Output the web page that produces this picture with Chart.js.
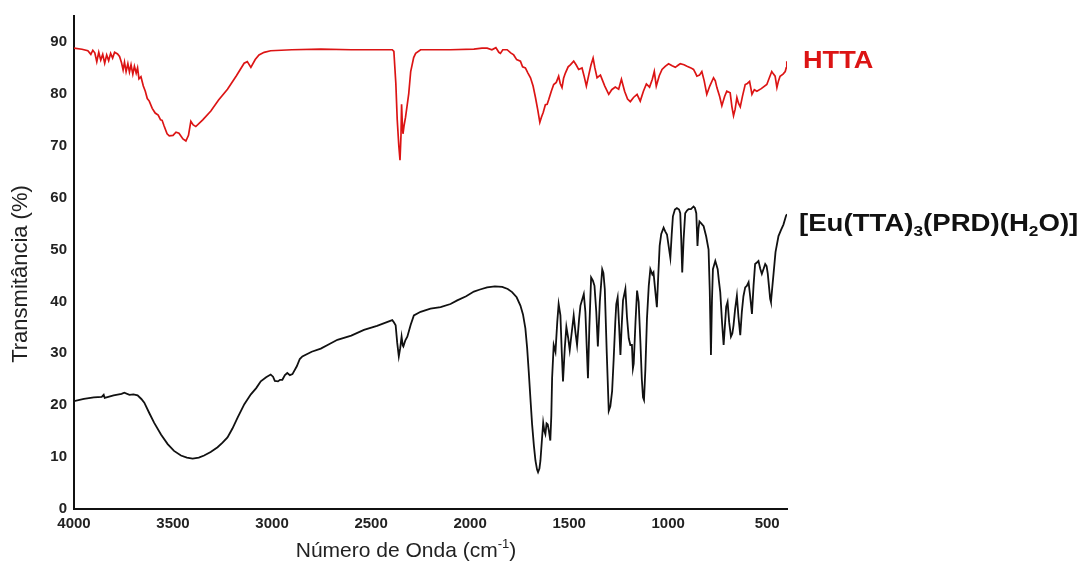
<!DOCTYPE html>
<html lang="pt">
<head>
<meta charset="UTF-8">
<title>FTIR - HTTA e complexo de Eu</title>
<script src="https://cdn.jsdelivr.net/npm/chart.js"></script>
<style>
  html, body { margin: 0; padding: 0; background: #fff; }
  #ftir { display: block; }
</style>
</head>
<body>
<canvas id="ftir" width="1084" height="564"></canvas>

<script>
// HTTA spectrum (wavenumber in cm-1, transmittance in %)
const httaWn = [
  4000, 3960, 3930, 3915, 3905, 3895, 3885, 3875, 3865, 3855, 3845, 3835, 3825, 3815, 3805, 3795,
  3780, 3770, 3760, 3752, 3745, 3737, 3728, 3720, 3712, 3703, 3695, 3686, 3679, 3672, 3662, 3650,
  3640, 3630, 3620, 3605, 3590, 3575, 3563, 3555, 3545, 3530, 3519, 3500, 3485, 3470, 3450, 3435,
  3422, 3410, 3398, 3385, 3350, 3309, 3270, 3225, 3180, 3141, 3125, 3107, 3085, 3066, 3040, 3007,
  2900, 2754, 2600, 2450, 2393, 2385, 2375, 2368, 2360, 2354, 2349, 2346, 2342, 2339, 2333, 2326,
  2310, 2300, 2285, 2275, 2250, 2100, 1981, 1940, 1914, 1890, 1870, 1855, 1847, 1835, 1813, 1795,
  1780, 1765, 1746, 1735, 1721, 1708, 1695, 1682, 1670, 1658, 1648, 1640, 1631, 1620, 1611, 1603,
  1590, 1578, 1565, 1553, 1545, 1536, 1528, 1519, 1505, 1494, 1477, 1465, 1452, 1435, 1425, 1413,
  1400, 1390, 1379, 1370, 1359, 1342, 1320, 1300, 1285, 1267, 1250, 1236, 1220, 1205, 1191, 1175,
  1157, 1141, 1125, 1110, 1094, 1080, 1070, 1060, 1045, 1031, 1015, 998, 980, 964, 950, 939,
  920, 905, 885, 872, 862, 855, 842, 830, 818, 805, 790, 771, 762, 754, 740, 729,
  715, 704, 687, 678, 670, 662, 653, 645, 636, 625, 611, 600, 589, 582, 577, 565,
  552, 530, 502, 490, 477, 468, 460, 451, 443, 435, 420, 409, 404, 401
];
const httaT = [
  88.8, 88.6, 88.3, 87.6, 88.4, 87.9, 86.2, 88.0, 86.5, 87.6, 85.9, 87.5, 86.4, 87.8, 86.9, 88.0,
  87.7, 87.2, 86.0, 84.6, 86.1, 84.3, 85.8, 84.2, 85.6, 83.8, 85.3, 84.0, 85.0, 82.9, 83.3, 81.5,
  80.5, 79.1, 78.6, 77.2, 76.3, 75.9, 75.0, 74.9, 73.8, 72.3, 71.9, 72.0, 72.6, 72.4, 71.3, 70.9,
  72.0, 74.7, 74.0, 73.7, 75.0, 76.7, 78.8, 80.9, 83.5, 85.9, 86.2, 85.1, 86.6, 87.5, 88.0, 88.3,
  88.5, 88.6, 88.5, 88.5, 88.5, 88.2, 82.0, 75.0, 70.0, 67.2, 72.0, 78.0, 74.0, 72.3, 74.0, 75.5,
  80.0, 84.3, 87.0, 87.8, 88.5, 88.5, 88.6, 88.8, 88.8, 88.5, 88.9, 88.0, 87.8, 88.5, 88.5, 87.9,
  87.5, 86.6, 86.3, 85.2, 85.0, 84.0, 83.1, 81.5, 79.3, 76.8, 74.5, 75.5, 76.4, 77.9, 78.0, 78.9,
  80.5, 81.8, 82.2, 83.4, 82.0, 81.2, 83.0, 84.0, 85.2, 85.6, 86.3, 85.6, 84.7, 85.0, 83.5, 81.5,
  83.8, 85.5, 86.9, 85.0, 83.1, 83.6, 81.5, 79.9, 80.8, 81.3, 80.9, 82.8, 80.5, 79.0, 78.5, 79.3,
  79.9, 78.6, 80.5, 81.9, 81.3, 82.8, 84.3, 81.5, 83.5, 84.7, 85.3, 85.8, 85.4, 85.1, 85.5, 85.8,
  85.6, 85.3, 85.0, 84.7, 84.0, 83.4, 83.6, 84.3, 82.5, 79.9, 81.5, 83.1, 82.5, 81.2, 79.5, 77.7,
  79.5, 80.5, 80.2, 77.5, 75.8, 77.0, 79.3, 78.2, 77.5, 79.5, 81.8, 82.0, 82.4, 81.0, 79.9, 80.8,
  80.5, 81.0, 81.8, 83.0, 84.3, 83.8, 83.4, 81.2, 82.5, 83.4, 83.8, 84.3, 85.0, 86.3
];

// [Eu(TTA)3(PRD)(H2O)] spectrum
const euWn = [
  4000, 3950, 3900, 3860, 3850, 3845, 3800, 3760, 3746, 3720, 3700, 3679, 3660, 3645, 3620, 3595,
  3560, 3527, 3495, 3460, 3430, 3401, 3370, 3343, 3310, 3275, 3250, 3225, 3200, 3174, 3140, 3107,
  3080, 3057, 3030, 3007, 2995, 2986, 2970, 2960, 2948, 2935, 2923, 2910, 2897, 2875, 2860, 2847,
  2800, 2754, 2710, 2670, 2600, 2536, 2470, 2420, 2393, 2385, 2376, 2368, 2360, 2353, 2346, 2340,
  2337, 2327, 2317, 2300, 2284, 2250, 2200, 2149, 2099, 2065, 2020, 1981, 1950, 1914, 1875, 1838,
  1810, 1788, 1765, 1746, 1733, 1721, 1712, 1704, 1695, 1687, 1678, 1670, 1662, 1657, 1650, 1645,
  1638, 1631, 1625, 1620, 1614, 1608, 1602, 1595, 1590, 1586, 1578, 1569, 1560, 1553, 1544, 1537,
  1531, 1522, 1514, 1505, 1497, 1490, 1477, 1468, 1460, 1450, 1443, 1426, 1418, 1410, 1405, 1398,
  1389, 1380, 1372, 1363, 1355, 1345, 1333, 1327, 1320, 1310, 1300, 1292, 1283, 1275, 1267, 1262,
  1255, 1248, 1241, 1235, 1228, 1216, 1208, 1199, 1191, 1183, 1178, 1174, 1165, 1157, 1149, 1140,
  1133, 1127, 1122, 1115, 1107, 1098, 1090, 1080, 1074, 1065, 1057, 1050, 1043, 1035, 1023, 1015,
  1006, 997, 989, 982, 976, 966, 956, 945, 939, 934, 929, 922, 914, 905, 897, 885,
  872, 865, 858, 852, 847, 842, 832, 821, 808, 796, 790, 784, 779, 774, 768, 762,
  756, 750, 744, 737, 728, 720, 714, 707, 700, 692, 683, 676, 670, 662, 653, 645,
  636, 628, 620, 611, 603, 594, 586, 577, 569, 561, 552, 544, 535, 527, 518, 510,
  503, 497, 490, 485, 481, 476, 468, 458, 443, 430, 418, 405, 400
];
const euT = [
  20.8, 21.2, 21.5, 21.6, 22.0, 21.4, 21.9, 22.2, 22.4, 22.0, 22.1, 21.9, 21.2, 20.5, 18.5, 16.6,
  14.3, 12.5, 11.2, 10.3, 9.9, 9.7, 9.9, 10.3, 11.0, 11.9, 12.8, 13.8, 15.5, 17.6, 20.2, 22.1,
  23.3, 24.6, 25.4, 25.9, 25.5, 24.7, 24.6, 24.9, 24.9, 25.8, 26.2, 25.8, 26.0, 27.5, 28.9, 29.4,
  30.3, 30.9, 31.8, 32.6, 33.4, 34.5, 35.3, 36.0, 36.4, 36.0, 35.4, 32.0, 29.4, 31.0, 33.2, 31.5,
  31.3, 32.5, 33.2, 35.5, 37.3, 38.0, 38.6, 38.9, 39.5, 40.2, 41.0, 41.9, 42.3, 42.7, 42.9, 42.8,
  42.4, 41.8, 40.8, 39.2, 37.5, 34.8, 31.0, 26.5, 21.0, 16.3, 12.2, 9.3, 7.6, 7.1, 7.8, 9.3,
  13.0, 16.6, 15.0, 14.4, 16.5, 16.3, 15.0, 13.2, 18.0, 25.2, 31.6, 30.3, 36.0, 39.5, 37.3, 30.0,
  24.6, 31.0, 35.1, 33.0, 30.6, 33.0, 37.3, 34.0, 31.6, 36.5, 39.2, 41.4, 38.0, 30.0, 25.2, 35.0,
  44.6, 44.0, 43.0, 38.0, 31.3, 40.0, 46.2, 45.5, 42.4, 30.0, 18.9, 19.8, 22.7, 29.0, 36.0, 39.5,
  40.8, 35.5, 29.7, 35.0, 40.2, 42.4, 37.0, 32.9, 31.6, 31.6, 27.1, 28.0, 36.0, 42.1, 39.9, 32.0,
  25.0, 21.5, 21.0, 27.0, 36.7, 43.0, 46.2, 45.2, 45.6, 42.0, 38.9, 45.0, 50.7, 53.0, 54.2, 53.5,
  52.9, 50.5, 48.4, 53.0, 56.4, 57.7, 58.0, 57.7, 57.0, 52.0, 45.6, 52.0, 57.0, 57.5, 57.8, 57.8,
  58.3, 58.0, 57.0, 50.7, 54.0, 55.4, 55.0, 54.5, 52.5, 50.0, 42.0, 29.7, 40.0, 46.2, 47.0, 47.8,
  47.0, 46.2, 44.0, 41.8, 36.0, 31.6, 35.0, 39.0, 39.9, 36.0, 33.2, 33.8, 35.4, 38.5, 41.1, 37.0,
  33.5, 38.0, 41.0, 42.7, 43.0, 43.7, 41.0, 37.6, 43.0, 47.2, 47.5, 47.8, 46.3, 45.3, 46.3, 47.2,
  46.8, 45.3, 42.5, 40.5, 39.9, 42.0, 45.3, 49.5, 52.6, 53.8, 54.8, 56.5, 56.8
];

const xTicks = [4000, 3500, 3000, 2500, 2000, 1500, 1000, 500];
const yTicks = [0, 10, 20, 30, 40, 50, 60, 70, 80, 90];

const toPoints = (wn, t) => wn.map((w, i) => ({ x: w, y: t[i] }));

const FONT = "'Liberation Sans', Arial, sans-serif";
const RED = '#dc1414';

// draws a run of text pieces; pieces flagged sub/sup use a smaller font and shifted baseline.
// sx stretches the run horizontally (the series names are set wide)
function drawRich(ctx, parts, x, y, size, weight, color, align, sx = 1) {
  ctx.save();
  ctx.fillStyle = color;
  ctx.textBaseline = 'alphabetic';
  ctx.textAlign = 'left';
  const small = Math.round(size * 0.62);
  let total = 0;
  parts.forEach(p => {
    ctx.font = `${weight} ${p.sub || p.sup ? small : size}px ${FONT}`;
    p.w = ctx.measureText(p.t).width;
    total += p.w;
  });
  const x0 = align === 'center' ? x - total * sx / 2 : x;
  ctx.translate(x0, y);
  ctx.scale(sx, 1);
  let cx = 0;
  parts.forEach(p => {
    ctx.font = `${weight} ${p.sub || p.sup ? small : size}px ${FONT}`;
    let dy = 0;
    if (p.sub) dy = size * 0.22;
    if (p.sup) dy = -size * 0.42;
    ctx.fillText(p.t, cx, dy);
    cx += p.w;
  });
  ctx.restore();
}

const labelsPlugin = {
  id: 'ftirLabels',
  afterDraw(chart) {
    const ctx = chart.ctx;
    // y axis title
    ctx.save();
    ctx.translate(27, 274);
    ctx.rotate(-Math.PI / 2);
    ctx.font = `22px ${FONT}`;
    ctx.fillStyle = '#222';
    ctx.textAlign = 'center';
    ctx.textBaseline = 'alphabetic';
    ctx.fillText('Transmitância (%)', 0, 0);
    ctx.restore();

    // x axis title
    drawRich(ctx, [
      { t: 'Número de Onda (cm' },
      { t: '-1', sup: true },
      { t: ')' }
    ], 406, 557, 21, 'normal', '#222', 'center');

    // series names
    drawRich(ctx, [{ t: 'HTTA' }], 803, 68, 24, 'bold', RED, 'left', 1.13);
    drawRich(ctx, [
      { t: '[Eu(TTA)' }, { t: '3', sub: true },
      { t: '(PRD)(H' }, { t: '2', sub: true },
      { t: 'O)]' }
    ], 799, 231, 24, 'bold', '#111', 'left', 1.15);
  }
};

const keepTicks = list => scale => {
  scale.ticks = list.map(v => ({ value: v }));
};

new Chart(document.getElementById('ftir'), {
  type: 'line',
  data: {
    datasets: [
      {
        label: 'HTTA',
        data: toPoints(httaWn, httaT),
        borderColor: RED,
        borderWidth: 1.7,
        pointRadius: 0,
        tension: 0
      },
      {
        label: '[Eu(TTA)3(PRD)(H2O)]',
        data: toPoints(euWn, euT),
        borderColor: '#111',
        borderWidth: 1.8,
        pointRadius: 0,
        tension: 0
      }
    ]
  },
  options: {
    responsive: false,
    animation: false,
    parsing: false,
    layout: { padding: { left: 0, right: 297, top: 13, bottom: 0 } },
    plugins: {
      legend: { display: false },
      tooltip: { enabled: false }
    },
    scales: {
      x: {
        type: 'linear',
        reverse: true,
        min: 400,
        max: 4000,
        afterBuildTicks: keepTicks(xTicks),
        afterFit: s => { s.height = 55; },
        grid: { display: false, drawTicks: false },
        border: { display: true, color: '#111', width: 2 },
        ticks: {
          padding: 6,
          color: '#222',
          font: { family: FONT, size: 15, weight: 'bold' },
          maxRotation: 0,
          autoSkip: false,
          callback: v => String(v)
        }
      },
      y: {
        min: 0,
        max: 95,
        afterBuildTicks: keepTicks(yTicks),
        afterFit: s => { s.width = 74; },
        grid: { display: false, drawTicks: false },
        border: { display: true, color: '#111', width: 2 },
        ticks: {
          padding: 7,
          color: '#222',
          font: { family: FONT, size: 15, weight: 'bold' },
          autoSkip: false,
          callback: v => String(v)
        }
      }
    }
  },
  plugins: [labelsPlugin]
});
</script>
</body>
</html>
